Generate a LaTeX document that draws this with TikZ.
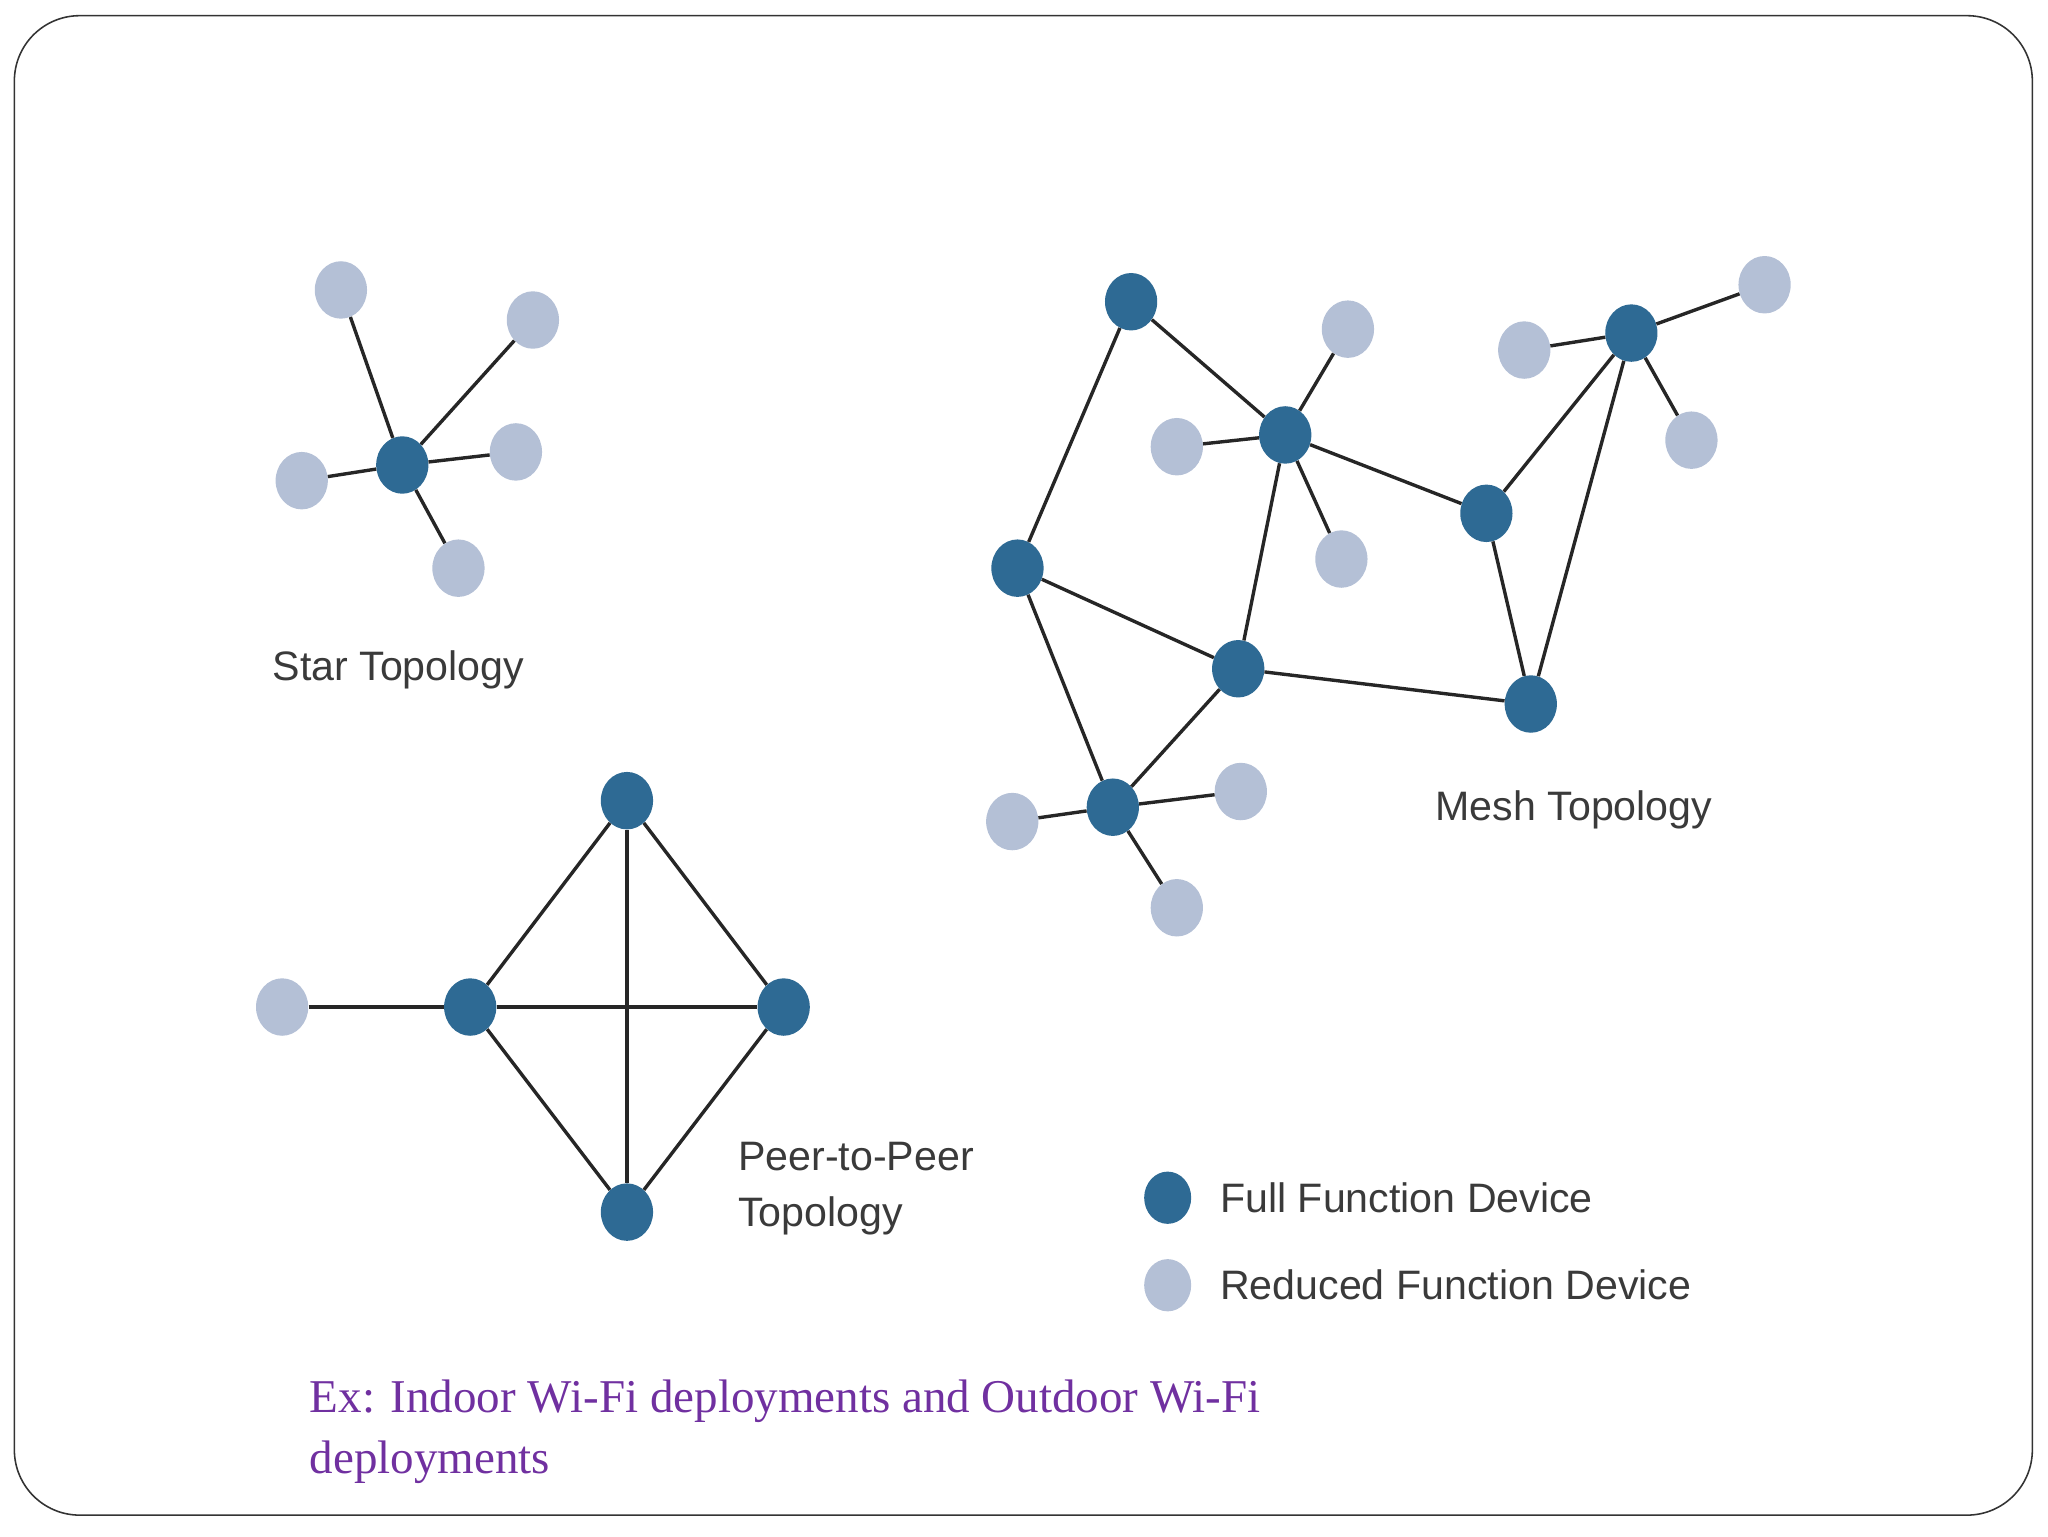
\documentclass[tikz,border=0pt]{standalone}
\usepackage{fontspec}
\usetikzlibrary{shapes.geometric}
\setmainfont{Liberation Serif}
\newfontfamily\lsans{Liberation Sans}
\definecolor{ffd}{HTML}{2E6A94}
\definecolor{rfd}{HTML}{B4C0D6}
\definecolor{lbl}{HTML}{3A3A3A}
\definecolor{purp}{HTML}{7030A0}
\begin{document}
\begin{tikzpicture}[x=1pt,y=-1pt,
 ff/.style={ellipse,fill=ffd,minimum width=40pt,minimum height=44pt,inner sep=0pt},
 rf/.style={ellipse,fill=rfd,minimum width=40pt,minimum height=44pt,inner sep=0pt},
 ln/.style={draw=black!85,line width=2.6pt},
 lab/.style={font=\lsans\fontsize{31.5}{43}\selectfont,text=lbl,inner sep=0pt}]
\useasboundingbox (0,0) rectangle (1568,1176);
\draw[black!80,line width=1.2pt,rounded corners=50pt] (11,12) rectangle (1556,1160);
% star
\node[ff] (s) at (308,356) {};
\foreach \n/\x/\y in {s1/261/222,s2/408/245,s3/395/346,s4/231/368,s5/351/435}{\node[rf] (\n) at (\x,\y) {};}
% mesh
\foreach \n/\x/\y in {A/866/231,B/984/333,C/1138/393,D/1249/255,E/779/435,F/948/512,G/1172/539,H/852/618}{\node[ff] (\n) at (\x,\y) {};}
\foreach \n/\x/\y in {b1/1032/252,b2/901/342,b3/1027/428,d1/1167/268,d2/1351/218,d3/1295/337,h1/775/629,h2/950/606,h3/901/695}{\node[rf] (\n) at (\x,\y) {};}
% p2p
\foreach \n/\x/\y in {pt/480/613,pl/360/771,pr/600/771,pb/480/928}{\node[ff] (\n) at (\x,\y) {};}
\node[rf] (pf) at (216,771) {};
% edges
\foreach \a in {s1,s2,s3,s4,s5}{\draw[ln] (s) -- (\a);}
\foreach \a/\b in {A/B,A/E,B/C,B/F,C/D,C/G,D/G,E/F,E/H,F/G,F/H,B/b1,B/b2,B/b3,D/d1,D/d2,D/d3,H/h1,H/h2,H/h3}{\draw[ln] (\a) -- (\b);}
\foreach \a/\b in {pt/pl,pt/pr,pt/pb,pl/pr,pl/pb,pr/pb,pf/pl}{\draw[ln] (\a) -- (\b);}
% labels
\node[lab] (ls) at (305,513) {Star Topology};
\node[lab,anchor=west,align=left] (lp) at (565,910) {Peer-to-Peer\\Topology};
\node[lab] (lm) at (1205,620) {Mesh Topology};
\node[ff,minimum width=36pt,minimum height=40pt] (lf) at (894,917) {};
\node[rf,minimum width=36pt,minimum height=40pt] (lr) at (894,984) {};
\node[lab,anchor=west] (tf) at (934,917) {Full Function Device};
\node[lab,anchor=west] (tr) at (934,984) {Reduced Function Device};
\node[anchor=west,align=left,text=purp,inner sep=0pt,font=\fontsize{36}{47}\selectfont] (ex) at (237,1096) {Ex: Indoor Wi-Fi deployments and Outdoor Wi-Fi\\deployments};
\end{tikzpicture}
\end{document}
